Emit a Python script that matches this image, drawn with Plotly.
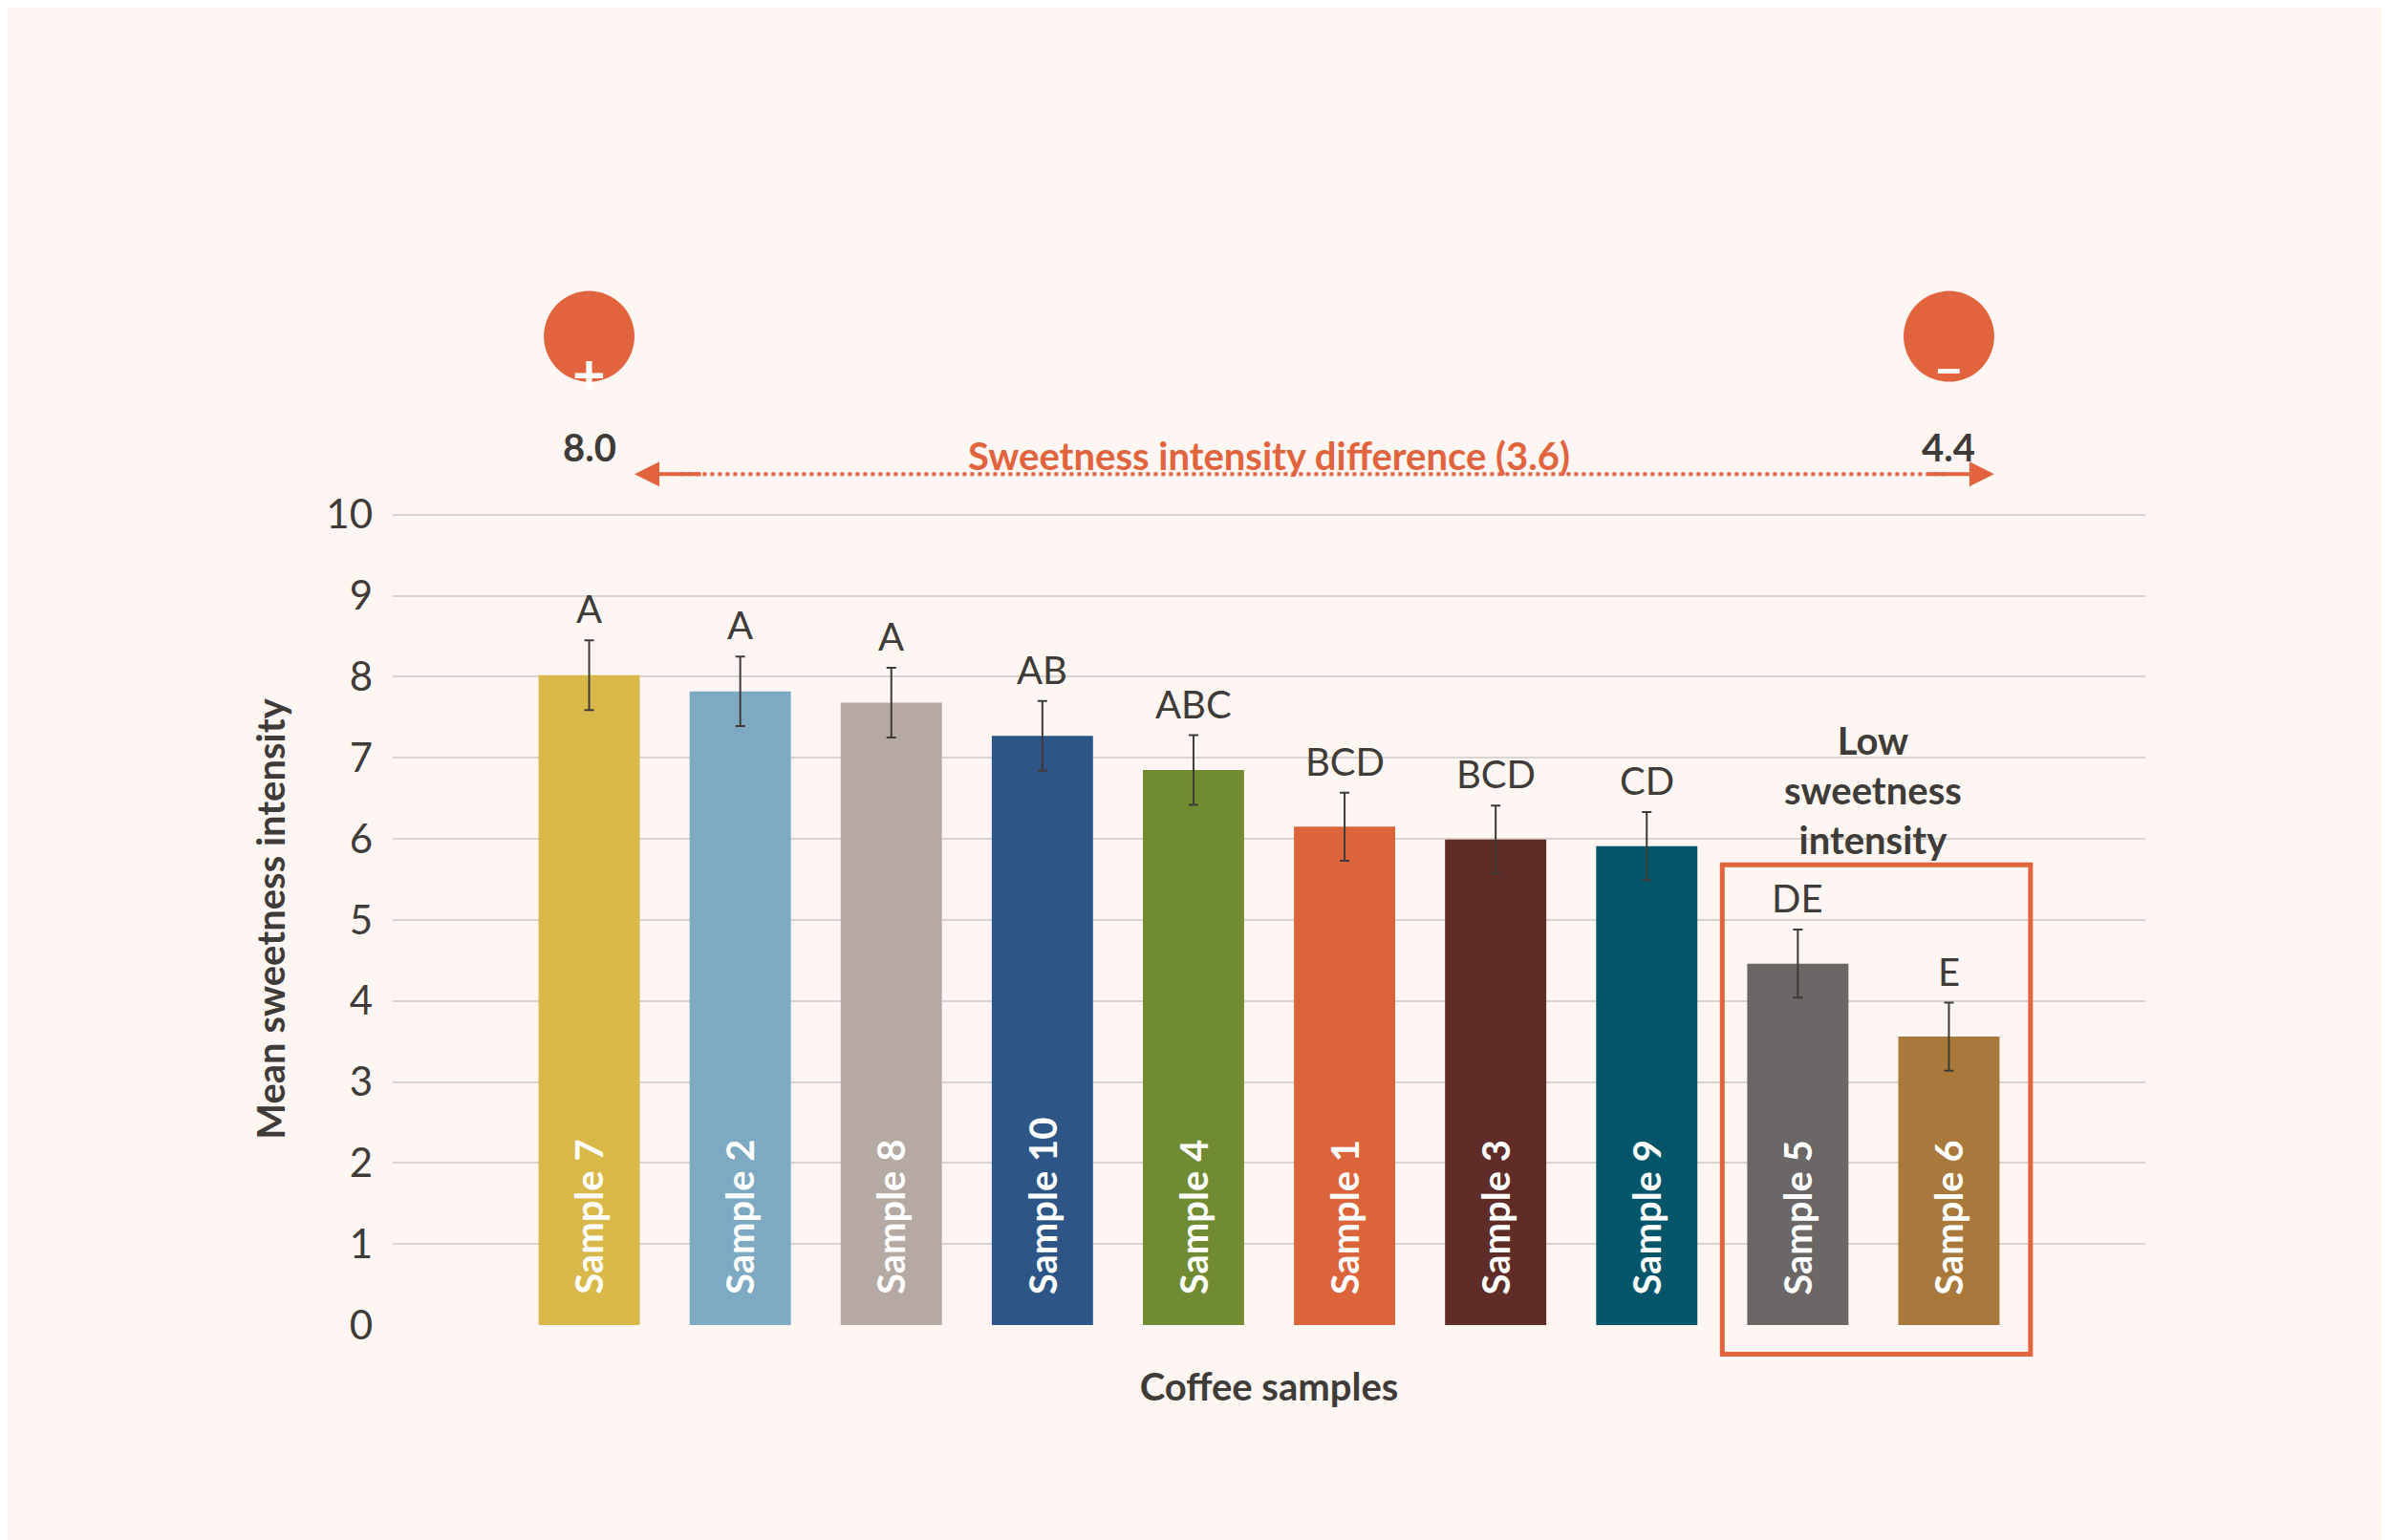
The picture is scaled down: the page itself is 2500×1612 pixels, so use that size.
import plotly.graph_objects as go

samples = ["Sample 7","Sample 2","Sample 8","Sample 10","Sample 4","Sample 1","Sample 3","Sample 9","Sample 5","Sample 6"]
means = [8.02, 7.82, 7.68, 7.27, 6.85, 6.15, 5.99, 5.91, 4.46, 3.56]
errs = [0.43, 0.43, 0.43, 0.43, 0.43, 0.42, 0.42, 0.42, 0.42, 0.42]
groups = ["A","A","A","AB","ABC","BCD","BCD","CD","DE","E"]
colors = ["#D9B84A","#7DAAC2","#B5A9A4","#2D5686","#718B33","#DC643A","#5F2C27","#03566A","#6A6766","#A8793A"]
yticks = [0,1,2,3,4,5,6,7,8,9,10]

ORANGE = "#E2643E"
DARK = "#3F3B38"
FONT = "Lato"
YMAX = 10.02
x = list(range(len(samples)))

def d(v):  # data y -> y domain fraction
    return v / YMAX

fig = go.Figure()
fig.add_trace(go.Bar(x=x, y=means, marker=dict(color=colors, line=dict(width=0)), width=0.67,
                     error_y=dict(type="data", array=errs, color="#3F3B38", thickness=2, width=5),
                     hoverinfo="skip"))

ann = []
for i, (s, m, e, g) in enumerate(zip(samples, means, errs, groups)):
    ann.append(dict(x=i, y=0.35, text=f"<b>{s}</b>", textangle=-90, showarrow=False, yanchor="bottom",
                    font=dict(family=FONT, size=40, color="white")))
    ann.append(dict(x=i, y=m + e + 0.08, text=g, showarrow=False, yanchor="bottom",
                    font=dict(family=FONT, size=40, color=DARK)))
ann += [
    dict(x=0, y=d(12.2), yref="y domain", text="<b>+</b>", showarrow=False, font=dict(family=FONT, size=60, color="white")),
    dict(x=9, y=d(12.25), yref="y domain", text="<b>–</b>", showarrow=False, font=dict(family=FONT, size=56, color="white")),
    dict(x=0, y=d(11.14), yref="y domain", text="<b>8.0</b>", showarrow=False, font=dict(family=FONT, size=40, color=DARK)),
    dict(x=9, y=d(11.14), yref="y domain", text="<b>4.4</b>", showarrow=False, font=dict(family=FONT, size=40, color=DARK)),
    dict(x=4.5, y=d(11.03), yref="y domain", text="<b>Sweetness intensity difference (3.6)</b>", showarrow=False,
         font=dict(family=FONT, size=40, color=ORANGE)),
    dict(x=8.5, y=6.6, text="<b>Low<br>sweetness<br>intensity</b>", showarrow=False,
         font=dict(family=FONT, size=40, color=DARK)),
    # arrowheads
    dict(x=0.3, y=d(10.5), yref="y domain", ax=0.75, ay=d(10.5), axref="x", ayref="y domain", text="",
         showarrow=True, arrowhead=2, arrowsize=1.3, arrowwidth=4, arrowcolor=ORANGE),
    dict(x=9.3, y=d(10.5), yref="y domain", ax=8.85, ay=d(10.5), axref="x", ayref="y domain", text="",
         showarrow=True, arrowhead=2, arrowsize=1.3, arrowwidth=4, arrowcolor=ORANGE),
]

shapes = [
    dict(type="circle", xref="x", yref="y domain", x0=-0.3, x1=0.3, y0=d(11.64), y1=d(12.76), fillcolor=ORANGE, line=dict(width=0)),
    dict(type="circle", xref="x", yref="y domain", x0=8.7, x1=9.3, y0=d(11.64), y1=d(12.76), fillcolor=ORANGE, line=dict(width=0)),
    dict(type="line", xref="x", yref="y domain", x0=0.6, x1=9.0, y0=d(10.5), y1=d(10.5), line=dict(color=ORANGE, width=4, dash="dot")),
    dict(type="rect", xref="x", yref="y domain", x0=7.5, x1=9.54, y0=d(-0.36), y1=d(5.68), line=dict(color=ORANGE, width=5)),
]

fig.update_layout(
    width=2500, height=1612,
    paper_bgcolor="#FDF6F2", plot_bgcolor="#FDF6F2",
    margin=dict(l=403, r=263, t=529, b=233),
    showlegend=False, annotations=ann, shapes=shapes,
    font=dict(family=FONT, color=DARK),
    xaxis=dict(range=[-1.3, 10.3], showticklabels=False, showgrid=False, zeroline=False,
               title=dict(text="<b>Coffee samples</b>", font=dict(size=40, color=DARK), standoff=50)),
    yaxis=dict(range=[0, YMAX], tickvals=yticks, gridcolor="#D9D4D0", gridwidth=2, zeroline=False,
               tickfont=dict(size=42, color=DARK), ticklabelstandoff=20,
               title=dict(text="<b>Mean sweetness intensity</b>", font=dict(size=40, color=DARK), standoff=30)),
)
fig.write_html("out.html")
